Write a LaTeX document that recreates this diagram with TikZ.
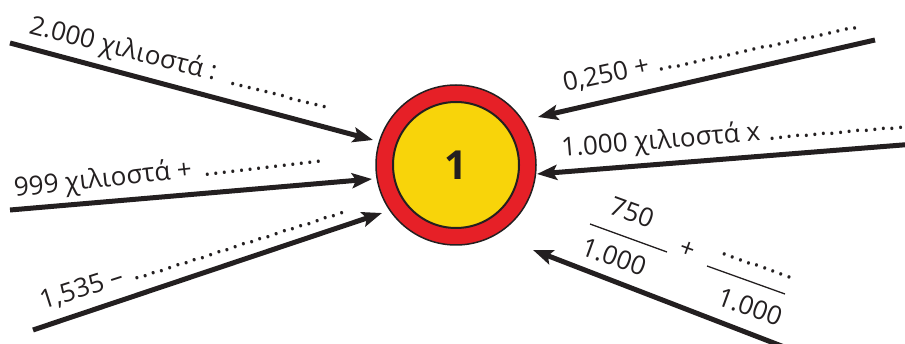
\documentclass[tikz,border=0pt]{standalone}
\usepackage{fontspec}
\setmainfont{Open Sans}
\usetikzlibrary{arrows.meta}
\definecolor{ringred}{RGB}{230,32,39}
\definecolor{coreyellow}{RGB}{248,212,10}
\definecolor{ink}{RGB}{35,31,32}
\newcommand\dotrun{\leaders\hbox to 8.6pt{\hss.\hss}\hfill}
\begin{document}
\begin{tikzpicture}[x=1pt,y=-1pt,
  font=\fontsize{26}{30}\selectfont,
  arrowline/.style={line width=5pt, draw=ink, -{Stealth[length=20pt,width=15pt,inset=4pt]}},
  lbl/.style={inner sep=0pt, anchor=base west, text=ink},
  piece/.style={inner sep=0pt, anchor=center, text=ink, rotate=-20},
  fracbar/.style={line width=1.3pt, draw=ink}]
\useasboundingbox (0,0) rectangle (905,344);
\clip (0,0) rectangle (905,344);
% target
\node[circle, fill=ringred, draw=ink, line width=1.5pt, minimum size=160pt, inner sep=0pt] (ring) at (456,165) {};
\node[circle, fill=coreyellow, draw=ink, line width=2pt, minimum size=126pt, inner sep=0pt,
      text=ink, font=\fontsize{40}{42}\selectfont\bfseries] (core) at (ring) {1};
% arrow ends
\coordinate (s1) at (10,43);  \coordinate (e1) at (373,140);
\coordinate (s2) at (10,210); \coordinate (e2) at (372,179);
\coordinate (s3) at (33,330); \coordinate (e3) at (382,213);
\coordinate (s4) at (875,40); \coordinate (e4) at (538,117);
\coordinate (s5) at (915,144); \coordinate (e5) at (537,174);
\coordinate (s6) at (810,357); \coordinate (e6) at (533,250);
\draw[arrowline] (s1) -- (e1);
\draw[arrowline] (s2) -- (e2);
\draw[arrowline] (s3) -- (e3);
\draw[arrowline] (s4) -- (e4);
\draw[arrowline] (s5) -- (e5);
\draw[arrowline] (s6) -- (e6);
% labels
\node[lbl, rotate=-14.3] (t1) at (28,33) {\hbox to 312pt{2.000 χιλιοστά :\ \dotrun}};
\node[lbl, rotate=6.3] (t2) at (15,197) {\hbox to 317pt{999 χιλιοστά +\ \dotrun}};
\node[lbl, rotate=17.7] (t3) at (43,310) {\hbox to 322pt{1,535 –\ \dotrun}};
\node[lbl, rotate=12.2] (t4) at (565,92) {\hbox to 302pt{0,250 +\ \dotrun}};
\node[lbl, rotate=4.7] (t5) at (562,157) {\hbox to 380pt{1.000 χιλιοστά x\ \dotrun}};
% fractions
\node[piece] (n1) at (632,212) {750};
\draw[fracbar] (590,224) -- (667,252);
\node[piece] (d1) at (614,257) {1.000};
\node[piece] (pl) at (687,250) {+};
\node[piece] (n2) at (757,266) {\hbox to 78pt{\dotrun}};
\draw[fracbar] (707,266) -- (785,294);
\node[piece] (d2) at (750,307) {1.000};
\end{tikzpicture}
\end{document}
